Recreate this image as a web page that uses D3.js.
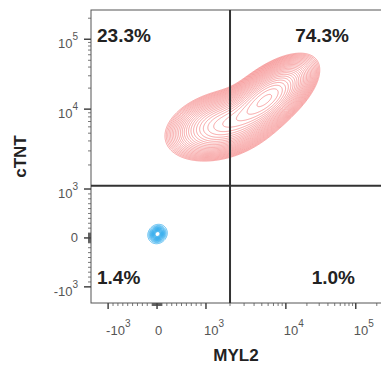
<!DOCTYPE html>
<html>
<head>
<meta charset="utf-8">
<script src="https://cdnjs.cloudflare.com/ajax/libs/d3/7.8.5/d3.min.js"></script>
<style>
  html, body { margin: 0; padding: 0; background: #fff; }
  svg { display: block; font-family: 'Liberation Sans', Arial, sans-serif; }
</style>
</head>
<body>
<div id="chart"></div>
<script>
// ---- data ----
const xTitle = 'MYL2';
const yTitle = 'cTNT';
const domainX = [-1350, 262144];
const domainY = [-1330, 262144];
const majorTicks = [-1000, 0, 1000, 10000, 100000];
const majorLabels = [['-10', '3'], ['0', ''], ['10', '3'], ['10', '4'], ['10', '5']];
const gateValues = [2000, 1100]; // MYL2, cTNT
const quadrantLabels = ['23.3%', '74.3%', '1.4%', '1.0%'];

// red population: gaussian components in biex units (decades)
const redMYL2 = [5900, 1500];
const redCTNT = [14500, 6300];
const redSpreadMajor = [0.36, 0.36];
const redSpreadMinor = [0.17, 0.21];
const redAngle = [38, 17];
const redWeight = [1, 0.6];

// blue population
const blueMYL2 = [10];
const blueCTNT = [80];
const blueSpreadMajor = [0.065];
const blueSpreadMinor = [0.058];
const blueAngle = [45];
const blueWeight = [1];

// ---- biex transform ----
function biex(v) {
  const a = 0.7, b = 80 / 70;
  if (Math.abs(v) <= 1000) return v / 1000 * a;
  if (v < 0) return -a + (v + 1000) / 1000 * a;
  const l = Math.log10(v);
  if (l <= 4) return a + (l - 3) * b;
  return a + b + (l - 4);
}

const width = 381, height = 366;
const pl = 91, pr = 385, pt = 10, pb = 303;

const xU = d3.scaleLinear().domain(domainX.map(biex)).range([pl, pr]);
const yU = d3.scaleLinear().domain(domainY.map(biex)).range([pb, pt]);
const x = v => xU(biex(v));
const y = v => yU(biex(v));

const svg = d3.select('#chart').append('svg')
  .attr('width', width)
  .attr('height', height);

// minor ticks
const minorTicks = [];
for (let d = 1; d <= 5; d++) {
  for (let k = 1; k <= 9; k++) {
    const v = k * Math.pow(10, d);
    if (majorTicks.includes(v)) continue;
    if (v < domainY[1]) minorTicks.push(v);
    if (v < 1000) minorTicks.push(-v);
  }
}

// density grid
function density(mx, my, sMaj, sMin, ang, w) {
  const comps = mx.map((m, i) => {
    const t = ang[i] * Math.PI / 180;
    return { cx: biex(m), cy: biex(my[i]), c: Math.cos(t), s: Math.sin(t), a: sMaj[i], b: sMin[i], w: w[i] };
  });
  const gw = pr - pl, gh = pb - pt;
  const values = new Float64Array(gw * gh);
  for (let j = 0; j < gh; j++) {
    const uy = yU.invert(pt + j + 0.5);
    for (let i = 0; i < gw; i++) {
      const ux = xU.invert(pl + i + 0.5);
      let sum = 0;
      for (const p of comps) {
        const dx = ux - p.cx, dy = uy - p.cy;
        const r1 = (dx * p.c + dy * p.s) / p.a;
        const r2 = (-dx * p.s + dy * p.c) / p.b;
        sum += p.w * Math.exp(-0.5 * (r1 * r1 + r2 * r2));
      }
      values[j * gw + i] = sum;
    }
  }
  return { values, gw, gh };
}

function drawContours(grid, levels, color, sw, op) {
  const max = d3.max(grid.values);
  const contours = d3.contours()
    .size([grid.gw, grid.gh])
    .thresholds(levels.map(l => l * max))(grid.values);
  svg.append('g')
    .attr('transform', `translate(${pl},${pt})`)
    .selectAll('path')
    .data(contours)
    .join('path')
    .attr('d', d3.geoPath())
    .attr('fill', 'none')
    .attr('stroke', color)
    .attr('stroke-width', sw)
    .attr('stroke-opacity', op);
}

const redLevels = d3.range(26).map(i => 0.045 * Math.pow(0.96 / 0.045, i / 25));
drawContours(density(redMYL2, redCTNT, redSpreadMajor, redSpreadMinor, redAngle, redWeight),
  redLevels, '#f37878', 0.9, 0.75);

const blueLevels = d3.range(14).map(i => 0.08 + i * 0.06);
drawContours(density(blueMYL2, blueCTNT, blueSpreadMajor, blueSpreadMinor, blueAngle, blueWeight),
  blueLevels, '#1ea5ec', 0.9, 0.8);

// frame
svg.append('rect')
  .attr('x', pl).attr('y', pt)
  .attr('width', pr - pl).attr('height', pb - pt)
  .attr('fill', 'none').attr('stroke', '#555').attr('stroke-width', 1);

// gates
svg.append('line')
  .attr('x1', x(gateValues[0])).attr('x2', x(gateValues[0]))
  .attr('y1', pt).attr('y2', pb)
  .attr('stroke', '#333').attr('stroke-width', 2);
svg.append('line')
  .attr('x1', pl).attr('x2', pr)
  .attr('y1', y(gateValues[1])).attr('y2', y(gateValues[1]))
  .attr('stroke', '#333').attr('stroke-width', 2);

// y axis ticks
const yAxis = svg.append('g');
yAxis.selectAll('line.minor').data(minorTicks.filter(v => v > domainY[0]))
  .join('line').attr('class', 'minor')
  .attr('x1', pl - 3).attr('x2', pl)
  .attr('y1', d => y(d)).attr('y2', d => y(d))
  .attr('stroke', '#555').attr('stroke-width', 0.8);
yAxis.selectAll('line.major').data(majorTicks)
  .join('line').attr('class', 'major')
  .attr('x1', pl - 7).attr('x2', pl)
  .attr('y1', d => y(d)).attr('y2', d => y(d))
  .attr('stroke', '#444').attr('stroke-width', 1.5);
const yLab = yAxis.selectAll('text').data(majorTicks)
  .join('text')
  .attr('x', 78)
  .attr('y', (d, i) => y(d) + (majorLabels[i][1] ? 9 : 4))
  .attr('text-anchor', 'end')
  .attr('fill', '#555')
  .attr('font-size', 13);
yLab.append('tspan').text((d, i) => majorLabels[i][0]);
yLab.append('tspan').attr('dy', -8).attr('font-size', 10).text((d, i) => majorLabels[i][1]);

// x axis ticks
const xAxis = svg.append('g');
xAxis.selectAll('line.minor').data(minorTicks.filter(v => v > domainX[0]))
  .join('line').attr('class', 'minor')
  .attr('y1', pb).attr('y2', pb + 3)
  .attr('x1', d => x(d)).attr('x2', d => x(d))
  .attr('stroke', '#555').attr('stroke-width', 0.8);
xAxis.selectAll('line.major').data(majorTicks)
  .join('line').attr('class', 'major')
  .attr('y1', pb).attr('y2', pb + 6)
  .attr('x1', d => x(d)).attr('x2', d => x(d))
  .attr('stroke', '#444').attr('stroke-width', 1.5);
const xLab = xAxis.selectAll('text').data(majorTicks)
  .join('text')
  .attr('x', d => x(d) - 2)
  .attr('y', 335)
  .attr('fill', '#555')
  .attr('font-size', 13);
xLab.append('tspan').text((d, i) => majorLabels[i][0]);
xLab.append('tspan').attr('dy', -8).attr('font-size', 10).text((d, i) => majorLabels[i][1]);

// titles
svg.append('text')
  .attr('x', (pl + pr) / 2 - 2).attr('y', 361)
  .attr('text-anchor', 'middle')
  .attr('font-size', 17).attr('font-weight', 'bold').attr('fill', '#222')
  .text(xTitle);
svg.append('text')
  .attr('transform', `translate(26,${(pt + pb) / 2}) rotate(-90)`)
  .attr('text-anchor', 'middle')
  .attr('font-size', 17).attr('font-weight', 'bold').attr('fill', '#222')
  .text(yTitle);

// quadrant percentages
const qPos = [[97, 42, 'start'], [349, 42, 'end'], [97, 284, 'start'], [355, 284, 'end']];
svg.selectAll('text.q').data(quadrantLabels)
  .join('text').attr('class', 'q')
  .attr('x', (d, i) => qPos[i][0]).attr('y', (d, i) => qPos[i][1])
  .attr('text-anchor', (d, i) => qPos[i][2])
  .attr('font-size', 19).attr('font-weight', 'bold').attr('fill', '#222')
  .text(d => d);
</script>
</body>
</html>
